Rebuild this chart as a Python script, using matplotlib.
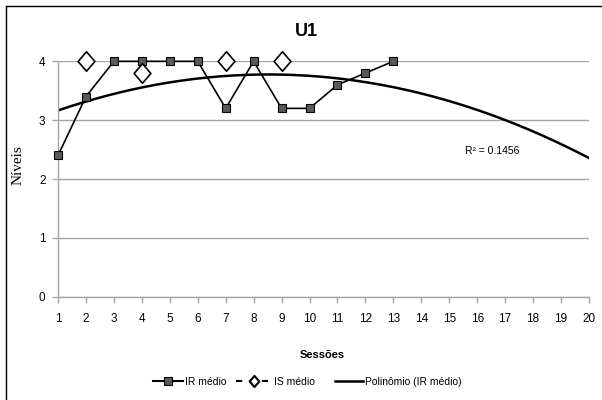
import numpy as np
import matplotlib
matplotlib.use("Agg")
import matplotlib.pyplot as plt
from matplotlib.lines import Line2D
from matplotlib.path import Path

# Sessions and mean levels
sessions = list(range(1, 14))
ir_medio = [2.4, 3.4, 4, 4, 4, 4, 3.2, 4, 3.2, 3.2, 3.6, 3.8, 4]
is_medio = [np.nan, 4, np.nan, 3.8, np.nan, np.nan, 4, np.nan, 4, np.nan, np.nan, np.nan, np.nan]
x_ticks = list(range(1, 21))
y_ticks = [0, 1, 2, 3, 4]
r2_label = "R² = 0.1456"

W, H = 602, 400
fig = plt.figure(figsize=(W / 100, H / 100), dpi=100)
fig.patch.set_facecolor("white")

sans = ["Liberation Sans", "DejaVu Sans"]

left, right, bottom, top = 58, 589, 296.7, 61.3
ax = fig.add_axes([left / W, (H - bottom) / H, (right - left) / W, (bottom - top) / H])

grid_c = "#a6a6a6"
ax.set_xlim(1, 20)
ax.set_ylim(0, 4)
ax.set_xticks(x_ticks)
ax.set_yticks(y_ticks)
ax.set_xticklabels([str(v) for v in x_ticks], family=sans, fontsize=8.5)
ax.set_yticklabels([str(v) for v in y_ticks], family=sans, fontsize=8.5)
for s in ["top", "right"]:
    ax.spines[s].set_visible(False)
for s in ["left", "bottom"]:
    ax.spines[s].set_color(grid_c)
    ax.spines[s].set_linewidth(1.0)
ax.tick_params(axis="both", colors=grid_c, labelcolor="black", length=4, width=1.0)
ax.tick_params(axis="x", pad=8)
ax.tick_params(axis="y", pad=5)
ax.yaxis.grid(True, color=grid_c, linewidth=1.0)
ax.set_axisbelow(True)

# Quadratic trend fitted to IR médio
coef = np.polyfit(sessions, ir_medio, 2)
xs = np.linspace(1, 20, 300)
ax.plot(xs, np.polyval(coef, xs), color="black", linewidth=1.8, zorder=2)

ax.plot(sessions, ir_medio, color="black", linewidth=1.2, marker="s",
        markersize=6, markerfacecolor="#595959", markeredgecolor="black",
        markeredgewidth=0.8, zorder=3, clip_on=False)

diamond = Path([(0, 1.1), (0.95, 0), (0, -1.1), (-0.95, 0), (0, 1.1)],
               [Path.MOVETO, Path.LINETO, Path.LINETO, Path.LINETO, Path.CLOSEPOLY])
ax.plot(sessions, is_medio, color="black", linestyle="--", linewidth=1.2,
        marker=diamond, markersize=14, markerfacecolor="white",
        markeredgecolor="black", markeredgewidth=1.2, zorder=4, clip_on=False)

ax.text(16.53, 2.47, r2_label, family=sans, fontsize=7.5, ha="center", va="center")

fig.text(306 / W, 1 - 31.5 / H, "U1", family=sans, fontsize=13, fontweight="bold",
         ha="center", va="center")
fig.text(18 / W, 1 - 165 / H, "Níveis", family=["Liberation Serif", "DejaVu Serif"],
         fontsize=11, rotation=90, ha="center", va="center")
fig.text(322 / W, 1 - 355 / H, "Sessões", family=sans, fontsize=8,
         fontweight="bold", ha="center", va="center")

# Legend entries placed one by one along the bottom
entries = [
    (Line2D([], [], color="black", linewidth=1.5, marker="s", markersize=6,
            markerfacecolor="#595959", markeredgecolor="black", markeredgewidth=0.8),
     "IR médio", 153, 2.9),
    (Line2D([], [], color="black", linestyle="--", linewidth=1.5, marker=diamond,
            markersize=8, markerfacecolor="white", markeredgecolor="black",
            markeredgewidth=1.5, dashes=(3, 3.2)),
     "IS médio", 236, 3.4),
    (Line2D([], [], color="black", linewidth=1.8),
     "Polinômio (IR médio)", 335, 2.7),
]
for handle, label, x0, hl in entries:
    leg = fig.legend([handle], [label], loc="center left",
                     bbox_to_anchor=(x0 / W, 1 - 382 / H), frameon=False,
                     prop={"family": sans, "size": 7.5}, handlelength=hl,
                     handletextpad=0.2, borderpad=0, borderaxespad=0)

# Chart border
fig.add_artist(Line2D([6 / W, 6 / W], [0, 1 - 6 / H], color="black", linewidth=1.0,
                      transform=fig.transFigure))
fig.add_artist(Line2D([6 / W, 1], [1 - 6 / H, 1 - 6 / H], color="black", linewidth=1.0,
                      transform=fig.transFigure))

fig.savefig("out.png", dpi=100)
